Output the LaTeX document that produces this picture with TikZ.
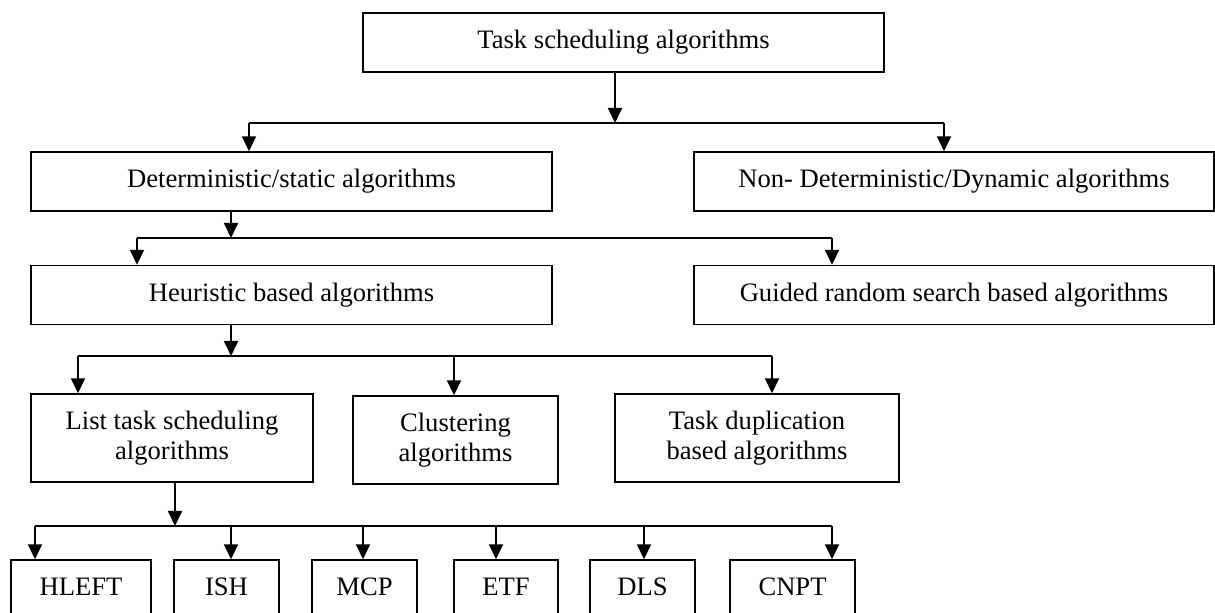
\documentclass[tikz,border=0pt]{standalone}
\usepackage{fontspec}
\setmainfont{Liberation Serif}
\usepackage{tikz}
\usetikzlibrary{arrows.meta,positioning,calc}
\tikzset{algbox/.style={draw=black,line width=0.7pt,align=center,font=\fontsize{13.3}{15}\selectfont,inner sep=2pt,minimum height=29.5pt}, flow/.style={-{Triangle[length=7.5pt,width=7pt]},line width=0.9pt,draw=black}, link/.style={line width=0.9pt,draw=black}}

\begin{document}
\begin{tikzpicture}[x=0.5pt,y=-0.5pt]
\useasboundingbox (0,0) rectangle (1215,613);
\clip (0,0) rectangle (1215,613);
% top levels
\node[algbox,minimum width=260.5pt] (top) at (623.5,42.5) {Task scheduling algorithms};
\node[algbox,minimum width=260.5pt] (det) at (291.5,181.5) {Deterministic/static algorithms};
\node[algbox,minimum width=260pt] (ndet) at (954,181.5) {Non- Deterministic/Dynamic algorithms};
\node[algbox,minimum width=260.5pt] (heur) at (291.5,295) {Heuristic based algorithms};
\node[algbox,minimum width=260pt] (grs) at (954,295) {Guided random search based algorithms};
% heuristic classes
\node[algbox,minimum width=141pt,minimum height=44pt] (list) at (172,438) {List task scheduling\\algorithms};
\node[algbox,minimum width=102.5pt,minimum height=44pt] (clus) at (455.5,440) {Clustering\\algorithms};
\node[algbox,minimum width=142pt,minimum height=44pt] (dup) at (757,438) {Task duplication\\based algorithms};
% list algorithms
\node[algbox,minimum width=70pt,minimum height=27pt] (hleft) at (81,587) {HLEFT};
\node[algbox,minimum width=52.5pt,minimum height=27pt] (ish) at (226.5,587) {ISH};
\node[algbox,minimum width=52.5pt,minimum height=27pt] (mcp) at (364.5,587) {MCP};
\node[algbox,minimum width=52pt,minimum height=27pt] (etf) at (506,587) {ETF};
\node[algbox,minimum width=52.5pt,minimum height=27pt] (dls) at (642.5,587) {DLS};
\node[algbox,minimum width=62.5pt,minimum height=27pt] (cnpt) at (792.5,587) {CNPT};

\coordinate (b1m) at (615,123);
\coordinate (b1l) at (249,123);
\coordinate (b1r) at (944,123);
\draw[flow] (top.south -| b1m) -- (b1m);
\draw[link] (b1l) -- (b1r);
\draw[flow] (b1l) -- (b1l |- det.north);
\draw[flow] (b1r) -- (b1r |- ndet.north);

\coordinate (b2m) at (231,238);
\coordinate (b2l) at (137,238);
\coordinate (b2r) at (832,238);
\draw[flow] (det.south -| b2m) -- (b2m);
\draw[link] (b2l) -- (b2r);
\draw[flow] (b2l) -- (b2l |- heur.north);
\draw[flow] (b2r) -- (b2r |- grs.north);

\coordinate (b3m) at (231,356);
\coordinate (b3l) at (78,356);
\coordinate (b3r) at (772,356);
\coordinate (b3c) at (454,356);
\draw[flow] (heur.south -| b3m) -- (b3m);
\draw[link] (b3l) -- (b3r);
\draw[flow] (b3l) -- (b3l |- list.north);
\draw[flow] (b3c) -- (b3c |- clus.north);
\draw[flow] (b3r) -- (b3r |- dup.north);

\coordinate (b4m) at (175,526);
\coordinate (b4l) at (35,526);
\coordinate (b4r) at (832,526);
\coordinate (b4i) at (231,526);
\coordinate (b4c) at (363,526);
\coordinate (b4e) at (496,526);
\coordinate (b4d) at (644,526);
\draw[flow] (list.south -| b4m) -- (b4m);
\draw[link] (b4l) -- (b4r);
\draw[flow] (b4l) -- (b4l |- hleft.north);
\draw[flow] (b4i) -- (b4i |- ish.north);
\draw[flow] (b4c) -- (b4c |- mcp.north);
\draw[flow] (b4e) -- (b4e |- etf.north);
\draw[flow] (b4d) -- (b4d |- dls.north);
\draw[flow] (b4r) -- (b4r |- cnpt.north);
\end{tikzpicture}
\end{document}
